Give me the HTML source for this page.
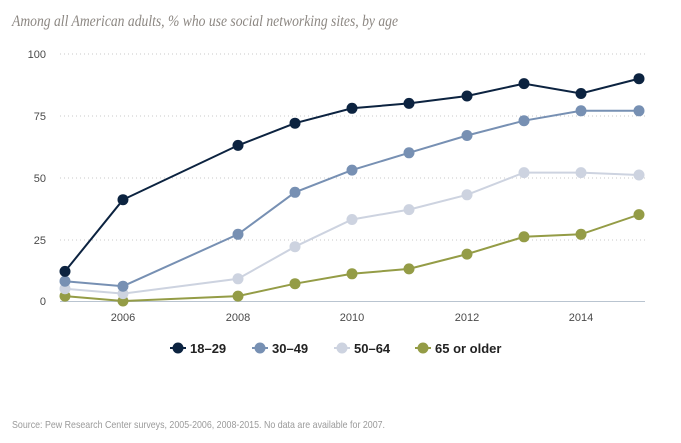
<!DOCTYPE html>
<html><head><meta charset="utf-8"><style>
html,body{margin:0;padding:0;background:#fff;}
svg{display:block;font-family:"Liberation Sans",sans-serif;}
</style></head><body>
<svg width="681" height="443" viewBox="0 0 681 443">
<text x="12" y="26" font-family="Liberation Serif,serif" font-style="italic" font-size="16" fill="#8c8782" textLength="386" lengthAdjust="spacingAndGlyphs">Among all American adults, % who use social networking sites, by age</text>
<g stroke="#c8c8c8" stroke-width="1" stroke-dasharray="1,3">
<line x1="60" y1="54" x2="645" y2="54"/>
<line x1="60" y1="116" x2="645" y2="116"/>
<line x1="60" y1="178" x2="645" y2="178"/>
<line x1="60" y1="240" x2="645" y2="240"/>
</g>
<line x1="60" y1="301.5" x2="645" y2="301.5" stroke="#b9c4d0" stroke-width="1"/>
<g font-size="11" fill="#4a4a4a" text-anchor="end">
<text x="46" y="58">100</text><text x="46" y="120">75</text><text x="46" y="182">50</text><text x="46" y="244">25</text><text x="46" y="305">0</text>
</g>
<g font-size="11" fill="#4a4a4a" text-anchor="middle">
<text x="123" y="321">2006</text><text x="238" y="321">2008</text><text x="352" y="321">2010</text><text x="467" y="321">2012</text><text x="581" y="321">2014</text>
</g>
<g fill="none" stroke-width="2">
<polyline stroke="#949c46" points="65,296.1 123,301 238,296.1 295,283.7 352,273.8 409,268.9 467,254.1 524,236.8 581,234.3 639,214.6"/>
<polyline stroke="#cdd3e0" points="65,288.7 123,293.6 238,278.8 295,246.7 352,219.5 409,209.6 467,194.8 524,172.6 581,172.6 639,175"/>
<polyline stroke="#7790b3" points="65,281.2 123,286.2 238,234.3 295,192.3 352,170.1 409,152.8 467,135.5 524,120.7 581,110.8 639,110.8"/>
<polyline stroke="#0c2340" points="65,271.4 123,199.7 238,145.4 295,123.2 352,108.3 409,103.4 467,96 524,83.6 581,93.5 639,78.7"/>
</g>
<g fill="#949c46"><circle cx="65" cy="296.1" r="5.5"/><circle cx="123" cy="301" r="5.5"/><circle cx="238" cy="296.1" r="5.5"/><circle cx="295" cy="283.7" r="5.5"/><circle cx="352" cy="273.8" r="5.5"/><circle cx="409" cy="268.9" r="5.5"/><circle cx="467" cy="254.1" r="5.5"/><circle cx="524" cy="236.8" r="5.5"/><circle cx="581" cy="234.3" r="5.5"/><circle cx="639" cy="214.6" r="5.5"/></g>
<g fill="#cdd3e0"><circle cx="65" cy="288.7" r="5.5"/><circle cx="123" cy="293.6" r="5.5"/><circle cx="238" cy="278.8" r="5.5"/><circle cx="295" cy="246.7" r="5.5"/><circle cx="352" cy="219.5" r="5.5"/><circle cx="409" cy="209.6" r="5.5"/><circle cx="467" cy="194.8" r="5.5"/><circle cx="524" cy="172.6" r="5.5"/><circle cx="581" cy="172.6" r="5.5"/><circle cx="639" cy="175" r="5.5"/></g>
<g fill="#7790b3"><circle cx="65" cy="281.2" r="5.5"/><circle cx="123" cy="286.2" r="5.5"/><circle cx="238" cy="234.3" r="5.5"/><circle cx="295" cy="192.3" r="5.5"/><circle cx="352" cy="170.1" r="5.5"/><circle cx="409" cy="152.8" r="5.5"/><circle cx="467" cy="135.5" r="5.5"/><circle cx="524" cy="120.7" r="5.5"/><circle cx="581" cy="110.8" r="5.5"/><circle cx="639" cy="110.8" r="5.5"/></g>
<g fill="#0c2340"><circle cx="65" cy="271.4" r="5.5"/><circle cx="123" cy="199.7" r="5.5"/><circle cx="238" cy="145.4" r="5.5"/><circle cx="295" cy="123.2" r="5.5"/><circle cx="352" cy="108.3" r="5.5"/><circle cx="409" cy="103.4" r="5.5"/><circle cx="467" cy="96" r="5.5"/><circle cx="524" cy="83.6" r="5.5"/><circle cx="581" cy="93.5" r="5.5"/><circle cx="639" cy="78.7" r="5.5"/></g>
<g font-size="13" font-weight="bold" fill="#222">
<line x1="170" y1="348" x2="186" y2="348" stroke="#0c2340" stroke-width="2"/><circle cx="178" cy="348" r="5.5" fill="#0c2340"/><text x="190" y="353">18–29</text>
<line x1="252" y1="348" x2="268" y2="348" stroke="#7790b3" stroke-width="2"/><circle cx="260" cy="348" r="5.5" fill="#7790b3"/><text x="272" y="353">30–49</text>
<line x1="334" y1="348" x2="350" y2="348" stroke="#cdd3e0" stroke-width="2"/><circle cx="342" cy="348" r="5.5" fill="#cdd3e0"/><text x="354" y="353">50–64</text>
<line x1="415" y1="348" x2="431" y2="348" stroke="#949c46" stroke-width="2"/><circle cx="423" cy="348" r="5.5" fill="#949c46"/><text x="435" y="353">65 or older</text>
</g>
<text x="12" y="428" font-size="10.5" fill="#9a9a9a" textLength="373" lengthAdjust="spacingAndGlyphs">Source: Pew Research Center surveys, 2005-2006, 2008-2015. No data are available for 2007.</text>
</svg>
</body></html>
